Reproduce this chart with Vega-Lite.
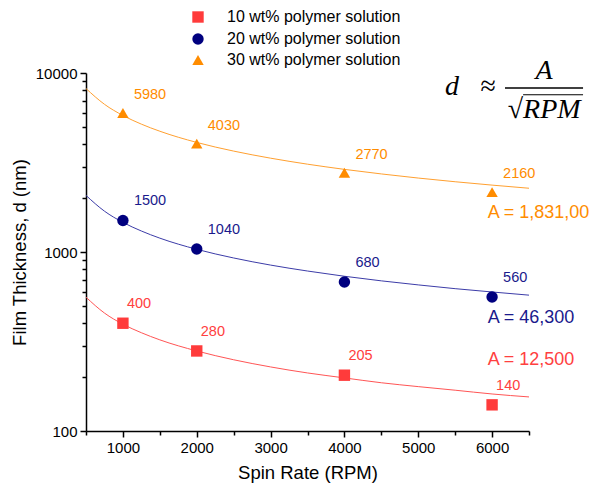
{
  "$schema": "https://vega.github.io/schema/vega-lite/v6.json",
  "width": 443,
  "height": 358,
  "autosize": {"type": "none"},
  "padding": {"left": 86, "top": 73, "right": 66, "bottom": 56},
  "background": "white",
  "config": {
    "view": {"stroke": null},
    "font": "Liberation Sans",
    "axis": {
      "domainColor": "black", "domainWidth": 1.5, "tickColor": "black", "tickWidth": 1.5,
      "labelFont": "Liberation Sans", "labelFontSize": 15, "labelColor": "black",
      "titleFont": "Liberation Sans", "titleFontSize": 18.5, "titleFontWeight": "normal", "titleColor": "black",
      "grid": false
    },
    "legend": {"labelFont": "Liberation Sans", "labelFontSize": 16, "labelColor": "black"}
  },
  "datasets": {
    "pts": [
      {"rpm": 1000, "d": 400, "s": "10 wt% polymer solution"},
      {"rpm": 2000, "d": 280, "s": "10 wt% polymer solution"},
      {"rpm": 4000, "d": 205, "s": "10 wt% polymer solution"},
      {"rpm": 6000, "d": 140, "s": "10 wt% polymer solution"},
      {"rpm": 1000, "d": 1500, "s": "20 wt% polymer solution"},
      {"rpm": 2000, "d": 1040, "s": "20 wt% polymer solution"},
      {"rpm": 4000, "d": 680, "s": "20 wt% polymer solution"},
      {"rpm": 6000, "d": 560, "s": "20 wt% polymer solution"},
      {"rpm": 1000, "d": 5980, "s": "30 wt% polymer solution"},
      {"rpm": 2000, "d": 4030, "s": "30 wt% polymer solution"},
      {"rpm": 4000, "d": 2770, "s": "30 wt% polymer solution"},
      {"rpm": 6000, "d": 2160, "s": "30 wt% polymer solution"}
    ],
    "curve": [
      {"rpm": 500, "d": 559, "s": "10 wt% polymer solution"},
      {"rpm": 750, "d": 456, "s": "10 wt% polymer solution"},
      {"rpm": 1000, "d": 395, "s": "10 wt% polymer solution"},
      {"rpm": 1250, "d": 354, "s": "10 wt% polymer solution"},
      {"rpm": 1500, "d": 323, "s": "10 wt% polymer solution"},
      {"rpm": 2000, "d": 280, "s": "10 wt% polymer solution"},
      {"rpm": 2500, "d": 250, "s": "10 wt% polymer solution"},
      {"rpm": 3000, "d": 228, "s": "10 wt% polymer solution"},
      {"rpm": 3500, "d": 211, "s": "10 wt% polymer solution"},
      {"rpm": 4000, "d": 198, "s": "10 wt% polymer solution"},
      {"rpm": 4500, "d": 186, "s": "10 wt% polymer solution"},
      {"rpm": 5000, "d": 177, "s": "10 wt% polymer solution"},
      {"rpm": 5500, "d": 169, "s": "10 wt% polymer solution"},
      {"rpm": 6000, "d": 161, "s": "10 wt% polymer solution"},
      {"rpm": 6500, "d": 155, "s": "10 wt% polymer solution"},
      {"rpm": 500, "d": 2071, "s": "20 wt% polymer solution"},
      {"rpm": 750, "d": 1691, "s": "20 wt% polymer solution"},
      {"rpm": 1000, "d": 1464, "s": "20 wt% polymer solution"},
      {"rpm": 1250, "d": 1310, "s": "20 wt% polymer solution"},
      {"rpm": 1500, "d": 1195, "s": "20 wt% polymer solution"},
      {"rpm": 2000, "d": 1035, "s": "20 wt% polymer solution"},
      {"rpm": 2500, "d": 926, "s": "20 wt% polymer solution"},
      {"rpm": 3000, "d": 845, "s": "20 wt% polymer solution"},
      {"rpm": 3500, "d": 783, "s": "20 wt% polymer solution"},
      {"rpm": 4000, "d": 732, "s": "20 wt% polymer solution"},
      {"rpm": 4500, "d": 690, "s": "20 wt% polymer solution"},
      {"rpm": 5000, "d": 655, "s": "20 wt% polymer solution"},
      {"rpm": 5500, "d": 624, "s": "20 wt% polymer solution"},
      {"rpm": 6000, "d": 598, "s": "20 wt% polymer solution"},
      {"rpm": 6500, "d": 574, "s": "20 wt% polymer solution"},
      {"rpm": 500, "d": 8188, "s": "30 wt% polymer solution"},
      {"rpm": 750, "d": 6686, "s": "30 wt% polymer solution"},
      {"rpm": 1000, "d": 5790, "s": "30 wt% polymer solution"},
      {"rpm": 1250, "d": 5179, "s": "30 wt% polymer solution"},
      {"rpm": 1500, "d": 4728, "s": "30 wt% polymer solution"},
      {"rpm": 2000, "d": 4094, "s": "30 wt% polymer solution"},
      {"rpm": 2500, "d": 3662, "s": "30 wt% polymer solution"},
      {"rpm": 3000, "d": 3343, "s": "30 wt% polymer solution"},
      {"rpm": 3500, "d": 3095, "s": "30 wt% polymer solution"},
      {"rpm": 4000, "d": 2895, "s": "30 wt% polymer solution"},
      {"rpm": 4500, "d": 2730, "s": "30 wt% polymer solution"},
      {"rpm": 5000, "d": 2589, "s": "30 wt% polymer solution"},
      {"rpm": 5500, "d": 2469, "s": "30 wt% polymer solution"},
      {"rpm": 6000, "d": 2364, "s": "30 wt% polymer solution"},
      {"rpm": 6500, "d": 2271, "s": "30 wt% polymer solution"}
    ],
    "one": [{"k": 1}]
  },
  "layer": [
    {
      "encoding": {
        "x": {
          "field": "rpm", "type": "quantitative",
          "scale": {"domain": [500, 6500], "nice": false, "zero": false},
          "axis": {"title": "Spin Rate (RPM)", "values": [500, 1000, 1500, 2000, 2500, 3000, 3500, 4000, 4500, 5000, 5500, 6000, 6500], "format": "d", "labelExpr": "datum.value % 1000 == 0 ? datum.label : ''", "tickSize": {"condition": {"test": "datum.value % 1000 == 0", "value": 6}, "value": 4}, "labelPadding": 3, "titlePadding": 8, "labelFlush": false}
        },
        "y": {
          "field": "d", "type": "quantitative",
          "scale": {"type": "log", "domain": [100, 10000], "nice": false},
          "axis": {"title": "Film Thickness, d (nm)", "values": [100, 200, 300, 400, 500, 600, 700, 800, 900, 1000, 2000, 3000, 4000, 5000, 6000, 7000, 8000, 9000, 10000], "format": "d", "labelExpr": "(datum.value == 100 || datum.value == 1000 || datum.value == 10000) ? datum.label : ''", "tickSize": {"condition": {"test": "datum.value == 100 || datum.value == 1000 || datum.value == 10000", "value": 6}, "value": 4}, "labelPadding": 3, "titlePadding": 6, "labelFlush": false}
        }
      },
      "layer": [
        {
          "data": {"name": "curve"},
          "transform": [{"filter": "datum.s == '10 wt% polymer solution'"}],
          "mark": {"type": "line", "strokeWidth": 1, "interpolate": "monotone", "stroke": "#FF5555"},
          "encoding": {}
        },
        {
          "data": {"name": "curve"},
          "transform": [{"filter": "datum.s == '20 wt% polymer solution'"}],
          "mark": {"type": "line", "strokeWidth": 1, "interpolate": "monotone", "stroke": "#3C3CA8"},
          "encoding": {}
        },
        {
          "data": {"name": "curve"},
          "transform": [{"filter": "datum.s == '30 wt% polymer solution'"}],
          "mark": {"type": "line", "strokeWidth": 1, "interpolate": "monotone", "stroke": "#FFA030"},
          "encoding": {}
        },
        {
          "data": {"name": "pts"},
          "mark": {"type": "point", "filled": true, "opacity": 1},
          "encoding": {
            "fill": {
              "field": "s", "type": "nominal",
              "scale": {"domain": ["10 wt% polymer solution", "20 wt% polymer solution", "30 wt% polymer solution"], "range": ["#FF3B3B", "#00007F", "#FF8C00"]},
              "legend": {"title": null, "orient": "none", "legendX": 104, "legendY": -64, "symbolSize": 130, "labelOffset": 21, "rowPadding": 4, "padding": 0, "labelLimit": 400}
            },
            "shape": {
              "field": "s", "type": "nominal",
              "scale": {"domain": ["10 wt% polymer solution", "20 wt% polymer solution", "30 wt% polymer solution"], "range": ["square", "circle", "triangle-up"]},
              "legend": {"title": null, "orient": "none", "legendX": 104, "legendY": -64, "symbolSize": 130, "labelOffset": 21, "rowPadding": 4, "padding": 0, "labelLimit": 400}
            },
            "size": {"value": 130}
          }
        },
        {
          "data": {"name": "pts"},
          "transform": [{"filter": "datum.s == '10 wt% polymer solution'"}],
          "mark": {"type": "text", "align": "left", "baseline": "middle", "dx": 4, "dy": -19, "fontSize": 14.5, "fill": "#FF4040"},
          "encoding": {"text": {"field": "d", "type": "quantitative", "format": "d"}}
        },
        {
          "data": {"name": "pts"},
          "transform": [{"filter": "datum.s == '20 wt% polymer solution'"}],
          "mark": {"type": "text", "align": "left", "baseline": "middle", "dx": 11, "dy": -19, "fontSize": 14.5, "fill": "#1A1A8C"},
          "encoding": {"text": {"field": "d", "type": "quantitative", "format": "d"}}
        },
        {
          "data": {"name": "pts"},
          "transform": [{"filter": "datum.s == '30 wt% polymer solution'"}],
          "mark": {"type": "text", "align": "left", "baseline": "middle", "dx": 11, "dy": -18, "fontSize": 14.5, "fill": "#FF8C00"},
          "encoding": {"text": {"field": "d", "type": "quantitative", "format": "d"}}
        }
      ]
    },
    {
      "data": {"name": "one"},
      "mark": {"type": "text", "align": "left", "baseline": "middle", "fontSize": 18, "fill": "#FF8C00"},
      "encoding": {
        "x": {"datum": 5940, "type": "quantitative", "axis": {"title": "Spin Rate (RPM)", "values": [500, 1000, 1500, 2000, 2500, 3000, 3500, 4000, 4500, 5000, 5500, 6000, 6500], "format": "d", "labelExpr": "datum.value % 1000 == 0 ? datum.label : ''", "tickSize": {"condition": {"test": "datum.value % 1000 == 0", "value": 6}, "value": 4}, "labelPadding": 3, "titlePadding": 8, "labelFlush": false}},
        "y": {"datum": 1650, "type": "quantitative", "axis": {"title": "Film Thickness, d (nm)", "values": [100, 200, 300, 400, 500, 600, 700, 800, 900, 1000, 2000, 3000, 4000, 5000, 6000, 7000, 8000, 9000, 10000], "format": "d", "labelExpr": "(datum.value == 100 || datum.value == 1000 || datum.value == 10000) ? datum.label : ''", "tickSize": {"condition": {"test": "datum.value == 100 || datum.value == 1000 || datum.value == 10000", "value": 6}, "value": 4}, "labelPadding": 3, "titlePadding": 6, "labelFlush": false}},
        "text": {"value": "A = 1,831,00"}
      }
    },
    {
      "data": {"name": "one"},
      "mark": {"type": "text", "align": "left", "baseline": "middle", "fontSize": 18, "fill": "#1A1A8C"},
      "encoding": {
        "x": {"datum": 5940, "type": "quantitative", "axis": {"title": "Spin Rate (RPM)", "values": [500, 1000, 1500, 2000, 2500, 3000, 3500, 4000, 4500, 5000, 5500, 6000, 6500], "format": "d", "labelExpr": "datum.value % 1000 == 0 ? datum.label : ''", "tickSize": {"condition": {"test": "datum.value % 1000 == 0", "value": 6}, "value": 4}, "labelPadding": 3, "titlePadding": 8, "labelFlush": false}},
        "y": {"datum": 427, "type": "quantitative", "axis": {"title": "Film Thickness, d (nm)", "values": [100, 200, 300, 400, 500, 600, 700, 800, 900, 1000, 2000, 3000, 4000, 5000, 6000, 7000, 8000, 9000, 10000], "format": "d", "labelExpr": "(datum.value == 100 || datum.value == 1000 || datum.value == 10000) ? datum.label : ''", "tickSize": {"condition": {"test": "datum.value == 100 || datum.value == 1000 || datum.value == 10000", "value": 6}, "value": 4}, "labelPadding": 3, "titlePadding": 6, "labelFlush": false}},
        "text": {"value": "A = 46,300"}
      }
    },
    {
      "data": {"name": "one"},
      "mark": {"type": "text", "align": "left", "baseline": "middle", "fontSize": 18, "fill": "#FF4040"},
      "encoding": {
        "x": {"datum": 5940, "type": "quantitative", "axis": {"title": "Spin Rate (RPM)", "values": [500, 1000, 1500, 2000, 2500, 3000, 3500, 4000, 4500, 5000, 5500, 6000, 6500], "format": "d", "labelExpr": "datum.value % 1000 == 0 ? datum.label : ''", "tickSize": {"condition": {"test": "datum.value % 1000 == 0", "value": 6}, "value": 4}, "labelPadding": 3, "titlePadding": 8, "labelFlush": false}},
        "y": {"datum": 250, "type": "quantitative", "axis": {"title": "Film Thickness, d (nm)", "values": [100, 200, 300, 400, 500, 600, 700, 800, 900, 1000, 2000, 3000, 4000, 5000, 6000, 7000, 8000, 9000, 10000], "format": "d", "labelExpr": "(datum.value == 100 || datum.value == 1000 || datum.value == 10000) ? datum.label : ''", "tickSize": {"condition": {"test": "datum.value == 100 || datum.value == 1000 || datum.value == 10000", "value": 6}, "value": 4}, "labelPadding": 3, "titlePadding": 6, "labelFlush": false}},
        "text": {"value": "A = 12,500"}
      }
    },
    {
      "data": {"name": "one"},
      "mark": {"type": "text", "align": "left", "baseline": "alphabetic", "fontSize": 28, "font": "Liberation Serif", "fontStyle": "italic", "fill": "black"},
      "encoding": {
        "x": {"datum": 5363, "type": "quantitative", "axis": {"title": "Spin Rate (RPM)", "values": [500, 1000, 1500, 2000, 2500, 3000, 3500, 4000, 4500, 5000, 5500, 6000, 6500], "format": "d", "labelExpr": "datum.value % 1000 == 0 ? datum.label : ''", "tickSize": {"condition": {"test": "datum.value % 1000 == 0", "value": 6}, "value": 4}, "labelPadding": 3, "titlePadding": 8, "labelFlush": false}},
        "y": {"datum": 7540, "type": "quantitative", "axis": {"title": "Film Thickness, d (nm)", "values": [100, 200, 300, 400, 500, 600, 700, 800, 900, 1000, 2000, 3000, 4000, 5000, 6000, 7000, 8000, 9000, 10000], "format": "d", "labelExpr": "(datum.value == 100 || datum.value == 1000 || datum.value == 10000) ? datum.label : ''", "tickSize": {"condition": {"test": "datum.value == 100 || datum.value == 1000 || datum.value == 10000", "value": 6}, "value": 4}, "labelPadding": 3, "titlePadding": 6, "labelFlush": false}},
        "text": {"value": "d\u00a0\u00a0\u00a0≈"}
      }
    },
    {
      "data": {"name": "one"},
      "mark": {"type": "text", "align": "center", "baseline": "alphabetic", "fontSize": 28, "lineHeight": 39, "font": "Liberation Serif", "fontStyle": "italic", "fill": "black"},
      "encoding": {
        "x": {"datum": 6705, "type": "quantitative", "axis": {"title": "Spin Rate (RPM)", "values": [500, 1000, 1500, 2000, 2500, 3000, 3500, 4000, 4500, 5000, 5500, 6000, 6500], "format": "d", "labelExpr": "datum.value % 1000 == 0 ? datum.label : ''", "tickSize": {"condition": {"test": "datum.value % 1000 == 0", "value": 6}, "value": 4}, "labelPadding": 3, "titlePadding": 8, "labelFlush": false}},
        "y": {"datum": 9260, "type": "quantitative", "axis": {"title": "Film Thickness, d (nm)", "values": [100, 200, 300, 400, 500, 600, 700, 800, 900, 1000, 2000, 3000, 4000, 5000, 6000, 7000, 8000, 9000, 10000], "format": "d", "labelExpr": "(datum.value == 100 || datum.value == 1000 || datum.value == 10000) ? datum.label : ''", "tickSize": {"condition": {"test": "datum.value == 100 || datum.value == 1000 || datum.value == 10000", "value": 6}, "value": 4}, "labelPadding": 3, "titlePadding": 6, "labelFlush": false}},
        "text": {"value": ["A", "√RPM"]}
      }
    },
    {
      "data": {"name": "one"},
      "mark": {"type": "rule", "stroke": "black", "strokeWidth": 1.5},
      "encoding": {
        "x": {"datum": 6175, "type": "quantitative", "axis": {"title": "Spin Rate (RPM)", "values": [500, 1000, 1500, 2000, 2500, 3000, 3500, 4000, 4500, 5000, 5500, 6000, 6500], "format": "d", "labelExpr": "datum.value % 1000 == 0 ? datum.label : ''", "tickSize": {"condition": {"test": "datum.value % 1000 == 0", "value": 6}, "value": 4}, "labelPadding": 3, "titlePadding": 8, "labelFlush": false}},
        "x2": {"datum": 7232},
        "y": {"datum": 8245, "type": "quantitative", "axis": {"title": "Film Thickness, d (nm)", "values": [100, 200, 300, 400, 500, 600, 700, 800, 900, 1000, 2000, 3000, 4000, 5000, 6000, 7000, 8000, 9000, 10000], "format": "d", "labelExpr": "(datum.value == 100 || datum.value == 1000 || datum.value == 10000) ? datum.label : ''", "tickSize": {"condition": {"test": "datum.value == 100 || datum.value == 1000 || datum.value == 10000", "value": 6}, "value": 4}, "labelPadding": 3, "titlePadding": 6, "labelFlush": false}}
      }
    },
    {
      "data": {"name": "one"},
      "mark": {"type": "rule", "stroke": "black", "strokeWidth": 1.2},
      "encoding": {
        "x": {"datum": 6420, "type": "quantitative", "axis": {"title": "Spin Rate (RPM)", "values": [500, 1000, 1500, 2000, 2500, 3000, 3500, 4000, 4500, 5000, 5500, 6000, 6500], "format": "d", "labelExpr": "datum.value % 1000 == 0 ? datum.label : ''", "tickSize": {"condition": {"test": "datum.value % 1000 == 0", "value": 6}, "value": 4}, "labelPadding": 3, "titlePadding": 8, "labelFlush": false}},
        "x2": {"datum": 7232},
        "y": {"datum": 7560, "type": "quantitative", "axis": {"title": "Film Thickness, d (nm)", "values": [100, 200, 300, 400, 500, 600, 700, 800, 900, 1000, 2000, 3000, 4000, 5000, 6000, 7000, 8000, 9000, 10000], "format": "d", "labelExpr": "(datum.value == 100 || datum.value == 1000 || datum.value == 10000) ? datum.label : ''", "tickSize": {"condition": {"test": "datum.value == 100 || datum.value == 1000 || datum.value == 10000", "value": 6}, "value": 4}, "labelPadding": 3, "titlePadding": 6, "labelFlush": false}}
      }
    }
  ]
}
